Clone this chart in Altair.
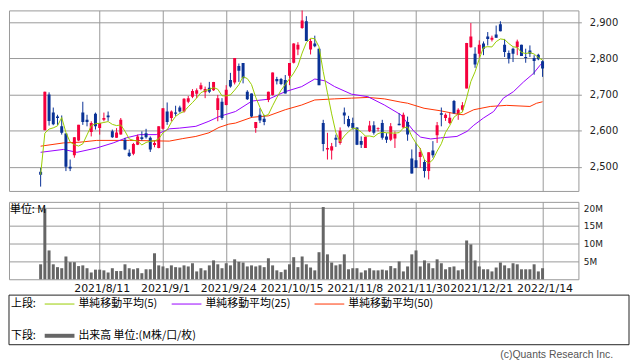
import altair as alt
import pandas as pd

# ---- data ----
opens = [2486, 2601, 2700, 2650, 2639, 2612, 2592, 2500, 2532, 2573,
         2650, 2630, 2596, 2647, 2607, 2630, 2642, 2598, 2580, 2589,
         2575, 2539, 2536, 2561, 2582, 2593, 2580, 2560, 2552, 2605,
         2653, 2635, 2650, 2664, 2653, 2680, 2694, 2702, 2715, 2706,
         2719, 2712, 2657, 2680, 2671, 2740, 2733, 2779, 2787, 2708,
         2703, 2607, 2644, 2633, 2685, 2699, 2743, 2743, 2740, 2752,
         2788, 2825, 2884, 2903, 2825, 2841, 2827, 2621, 2548, 2545,
         2580, 2566, 2650, 2632, 2621, 2609, 2571, 2552, 2598, 2615,
         2605, 2621, 2584, 2575, 2578, 2619, 2609, 2624, 2523, 2518,
         2527, 2513, 2488, 2545, 2587, 2648, 2635, 2621, 2682, 2644,
         2658, 2717, 2831, 2813, 2813, 2841, 2861, 2852, 2866, 2895,
         2838, 2815, 2827, 2831, 2838, 2804, 2822, 2801, 2810, 2792]
highs = [2497, 2708, 2706, 2664, 2644, 2642, 2592, 2520, 2582, 2616,
         2680, 2644, 2626, 2650, 2621, 2650, 2653, 2603, 2607, 2635,
         2580, 2548, 2566, 2589, 2598, 2605, 2584, 2573, 2612, 2662,
         2678, 2656, 2669, 2669, 2690, 2696, 2715, 2717, 2733, 2722,
         2735, 2735, 2699, 2690, 2726, 2760, 2801, 2786, 2787, 2712,
         2703, 2624, 2662, 2644, 2708, 2761, 2749, 2746, 2754, 2787,
         2842, 2845, 2938, 2917, 2854, 2863, 2827, 2630, 2594, 2566,
         2589, 2609, 2664, 2641, 2636, 2609, 2584, 2583, 2627, 2626,
         2609, 2630, 2593, 2621, 2598, 2648, 2650, 2639, 2548, 2566,
         2552, 2520, 2540, 2571, 2624, 2664, 2648, 2650, 2685, 2662,
         2679, 2843, 2898, 2831, 2850, 2847, 2873, 2863, 2891, 2903,
         2854, 2822, 2830, 2852, 2838, 2827, 2836, 2809, 2813, 2795]
lows = [2445, 2601, 2614, 2615, 2616, 2589, 2488, 2488, 2525, 2571,
        2616, 2612, 2584, 2603, 2589, 2626, 2627, 2580, 2580, 2589,
        2546, 2527, 2532, 2560, 2573, 2578, 2541, 2554, 2551, 2603,
        2616, 2626, 2641, 2650, 2650, 2676, 2690, 2690, 2712, 2690,
        2704, 2710, 2626, 2630, 2670, 2719, 2728, 2735, 2731, 2685,
        2637, 2594, 2621, 2615, 2679, 2697, 2728, 2726, 2703, 2726,
        2786, 2809, 2882, 2848, 2811, 2831, 2726, 2543, 2520, 2520,
        2555, 2561, 2618, 2609, 2603, 2560, 2552, 2552, 2596, 2589,
        2598, 2575, 2566, 2571, 2552, 2615, 2607, 2572, 2481, 2497,
        2497, 2470, 2465, 2525, 2566, 2612, 2627, 2618, 2647, 2630,
        2653, 2717, 2830, 2774, 2801, 2809, 2836, 2847, 2857, 2875,
        2804, 2786, 2790, 2809, 2807, 2788, 2804, 2755, 2795, 2749]
closes = [2478, 2708, 2627, 2618, 2635, 2594, 2500, 2495, 2582, 2616,
          2624, 2624, 2621, 2612, 2621, 2635, 2637, 2582, 2595, 2630,
          2548, 2530, 2563, 2584, 2577, 2582, 2548, 2566, 2612, 2662,
          2624, 2653, 2647, 2653, 2688, 2690, 2710, 2712, 2726, 2715,
          2708, 2735, 2690, 2635, 2713, 2722, 2801, 2766, 2745, 2687,
          2639, 2624, 2628, 2624, 2708, 2761, 2737, 2729, 2703, 2787,
          2841, 2838, 2905, 2848, 2848, 2834, 2726, 2563, 2552, 2557,
          2575, 2600, 2642, 2612, 2607, 2561, 2561, 2583, 2614, 2594,
          2607, 2580, 2575, 2612, 2591, 2615, 2644, 2589, 2481, 2497,
          2541, 2488, 2540, 2532, 2615, 2644, 2644, 2636, 2648, 2658,
          2670, 2843, 2861, 2783, 2838, 2827, 2854, 2857, 2857, 2875,
          2818, 2799, 2813, 2847, 2807, 2801, 2813, 2793, 2798, 2772]
volumes = [4.2, 19.8, 8.1, 4.2, 3.4, 3.1, 6.4, 4.8, 4.8, 3.7,
           3.9, 3.1, 1.9, 2.7, 2.7, 2.5, 1.9, 3.1, 2.3, 2.3,
           4.2, 3.1, 2.8, 3.1, 1.7, 2.8, 2.8, 7.3, 3.9, 3.6,
           3.1, 3.9, 3.4, 3.3, 3.9, 3.6, 4.5, 2.2, 3.1, 2.5,
           3.9, 5.3, 4.2, 3.1, 4.5, 3.9, 5.6, 4.9, 4.7, 3.6,
           3.9, 3.6, 3.9, 3.4, 5.9, 3.9, 2.5, 2.0, 2.7, 4.2,
           6.2, 3.4, 6.4, 4.2, 3.3, 2.5, 7.6, 20.3, 7.0, 4.7,
           3.9, 4.2, 7.0, 2.8, 3.1, 3.1, 1.9, 2.5, 3.1, 2.5,
           2.5, 2.7, 2.5, 3.7, 3.1, 5.0, 2.2, 3.6, 7.0, 8.1,
           3.6, 5.3, 4.5, 3.1, 5.6, 4.5, 2.8, 3.4, 3.6, 2.5,
           2.8, 10.9, 9.8, 5.3, 3.6, 2.8, 2.8, 2.2, 3.3, 4.7,
           3.9, 3.1, 4.5, 4.2, 2.8, 2.8, 2.8, 4.2, 2.2, 3.1]

ma25_idx = [0, 5.4, 8.6, 13.3, 17.2, 20.3, 23.5, 27.4, 30.5, 32.9, 36.8, 39.9,
            42.3, 46.2, 50.1, 54, 58, 61.9, 65, 67.4, 69.7, 73.7, 77.6, 81.5,
            85.4, 88.5, 90.1, 92.5, 94.8, 98.7, 101.1, 102.7, 105, 107.4,
            109.7, 112.1, 114.5, 116.8, 118.4, 119]
ma25_val = [2540, 2548, 2540, 2552, 2566, 2580, 2589, 2589, 2605, 2607, 2612, 2626,
            2639, 2653, 2682, 2687, 2708, 2722, 2743, 2738, 2722, 2701, 2694, 2671,
            2644, 2598, 2582, 2577, 2580, 2584, 2598, 2615, 2635, 2653,
            2690, 2708, 2735, 2758, 2781, 2788]
ma50_idx = [0, 5.4, 9.3, 13.3, 21.1, 30.5, 33.7, 36.8, 39.9, 42.3, 44.6, 46.2,
            50.1, 54, 58, 61.9, 65, 69.7, 73.7, 77.6, 81.5, 85.4, 87, 90.9,
            94.8, 98.7, 100.2, 102.7, 106.6, 110.5, 116, 117.6, 119]
ma50_val = [2557, 2566, 2568, 2573, 2573, 2571, 2578, 2584, 2594, 2609, 2618, 2621,
            2637, 2641, 2658, 2671, 2685, 2688, 2690, 2692, 2688, 2679, 2676, 2662,
            2655, 2646, 2644, 2658, 2667, 2670, 2667, 2676, 2680]

tick_idx = [14, 29, 44, 59, 74, 89, 104, 119]
tick_labels = ["2021/8/11", "2021/9/1", "2021/9/24", "2021/10/15",
               "2021/11/8", "2021/11/30", "2021/12/21", "2022/1/14"]
price_ticks = [2500, 2600, 2700, 2800, 2900]
vol_ticks = [5, 10, 15, 20]

legend_row1 = ["上段:", "単純移動平均(5)", "単純移動平均(25)", "単純移動平均(50)"]
legend_row2 = ["下段:", "出来高 単位:(M株/口/枚)"]
unit_label = "単位: M"
credit = "(c)Quants Research Inc."

# ---- styles ----
RED = "#f5003d"
BLUE = "#0a3296"
C_MA5 = "#99cc00"
C_MA25 = "#9900ff"
C_MA50 = "#ff3300"
GRID = "#999999"
VOLC = "#666666"
W = 574
H_PRICE = 182
H_VOL = 78

df = pd.DataFrame({"i": list(range(len(opens))), "open": opens, "high": highs,
                   "low": lows, "close": closes, "vol": volumes})
ma25 = pd.DataFrame({"i": ma25_idx, "v": ma25_val})
ma50 = pd.DataFrame({"i": ma50_idx, "v": ma50_val})
one = pd.DataFrame({"k": [0]})

label_expr = "[" + ",".join("'%s'" % s for s in tick_labels) + "][indexof([" + \
    ",".join(str(v) for v in tick_idx) + "], datum.value)]"

xscale = alt.Scale(domain=[-7.5, 127.5], nice=False, zero=False, padding=0)
pscale = alt.Scale(domain=[2433, 2933], nice=False, zero=False, padding=0)
vscale = alt.Scale(domain=[0, 21.76], nice=False, zero=False, padding=0)

x_axis_price = alt.Axis(values=tick_idx, labels=False, ticks=False, domain=False,
                        grid=True, gridColor=GRID, title=None)
y_axis_price = alt.Axis(orient="right", values=price_ticks,
                        labelExpr="format(datum.value, ',')", grid=True,
                        gridColor=GRID, ticks=True, tickColor=GRID, tickSize=3,
                        labelPadding=8, labelFont="DejaVu Sans", labelFontSize=10,
                        labelColor="#222", domain=False, title=None)

def px(field="i:Q"):
    return alt.X(field, scale=xscale, axis=x_axis_price)

def py(field):
    return alt.Y(field, scale=pscale, axis=y_axis_price)

color_cond = alt.condition("datum.close >= datum.open", alt.value(RED), alt.value(BLUE))

wicks = alt.Chart(df).mark_rule(strokeWidth=1, clip=True).encode(
    x=px(), y=py("low:Q"), y2="high:Q", color=color_cond)
bodies = alt.Chart(df).mark_bar(width=3, clip=True).encode(
    x=px(), y=py("open:Q"), y2="close:Q", color=color_cond)
ma5_line = alt.Chart(df).transform_window(
    ma5="mean(close)", frame=[-4, 0], sort=[alt.SortField("i")]
).mark_line(color=C_MA5, strokeWidth=1, clip=True).encode(x=px(), y=py("ma5:Q"))
ma25_line = alt.Chart(ma25).mark_line(color=C_MA25, strokeWidth=1, clip=True).encode(
    x=px(), y=py("v:Q"))
ma50_line = alt.Chart(ma50).mark_line(color=C_MA50, strokeWidth=1, clip=True).encode(
    x=px(), y=py("v:Q"))

price = alt.layer(ma50_line, ma25_line, wicks, bodies, ma5_line).properties(
    width=W, height=H_PRICE)

# ---- volume panel (legend box drawn below it, outside the view) ----
vol_bars = alt.Chart(df).mark_bar(width=3, color=VOLC).encode(
    x=alt.X("i:Q", scale=xscale,
            axis=alt.Axis(values=tick_idx, labelExpr=label_expr, grid=True, gridColor=GRID,
                          ticks=False, domain=False, labelFont="DejaVu Sans",
                          labelFontSize=11, labelColor="#111", labelPadding=3,
                          labelOverlap=False, labelFlush=False, labelOffset=2,
                          labelBaseline="top", title=None)),
    y=alt.Y("vol:Q", scale=vscale,
            axis=alt.Axis(orient="right", values=vol_ticks, labelExpr="datum.value + 'M'",
                          grid=True, gridColor=GRID, ticks=False, labelPadding=5,
                          labelFont="DejaVu Sans", labelFontSize=9, labelColor="#222",
                          domain=False, title=None)),
)

def txt(s, x, y, size=11, color="#000", align="left", font="Noto Sans CJK JP"):
    return alt.Chart(one).mark_text(text=s, align=align, baseline="middle",
                                    font=font, fontSize=size, color=color).encode(
        x=alt.value(x), y=alt.value(y))

def seg(x1, x2, y, color, width=1):
    return alt.Chart(one).mark_rule(color=color, strokeWidth=width).encode(
        x=alt.value(x1), x2=alt.value(x2), y=alt.value(y))

unit_text = txt(unit_label, 1, 8)

box = alt.Chart(one).mark_rect(fill="white", stroke="#222", strokeWidth=1).encode(
    x=alt.value(0), x2=alt.value(625), y=alt.value(94), y2=alt.value(144))

r1 = 103
r2 = 135
legend_layers = [
    box,
    txt(legend_row1[0], 2, r1),
    seg(36, 66, r1, C_MA5), txt(legend_row1[1], 70, r1),
    seg(164, 194, r1, C_MA25), txt(legend_row1[2], 198, r1),
    seg(308, 338, r1, C_MA50), txt(legend_row1[3], 342, r1),
    txt(legend_row2[0], 2, r2),
    seg(36, 66, r2, VOLC, 4), txt(legend_row2[1], 70, r2),
    txt(credit, 609, 154, size=10.5, color="#555", align="right", font="Liberation Sans"),
]

volume = alt.layer(vol_bars, unit_text, *legend_layers).properties(width=W, height=H_VOL)

chart = alt.vconcat(price, volume, spacing=9).properties(padding=0).configure_view(
    stroke=GRID, strokeWidth=1
).configure_axis(gridOpacity=1, gridWidth=1)

chart.save("out.html", embed_options={"renderer": "svg", "actions": False})
